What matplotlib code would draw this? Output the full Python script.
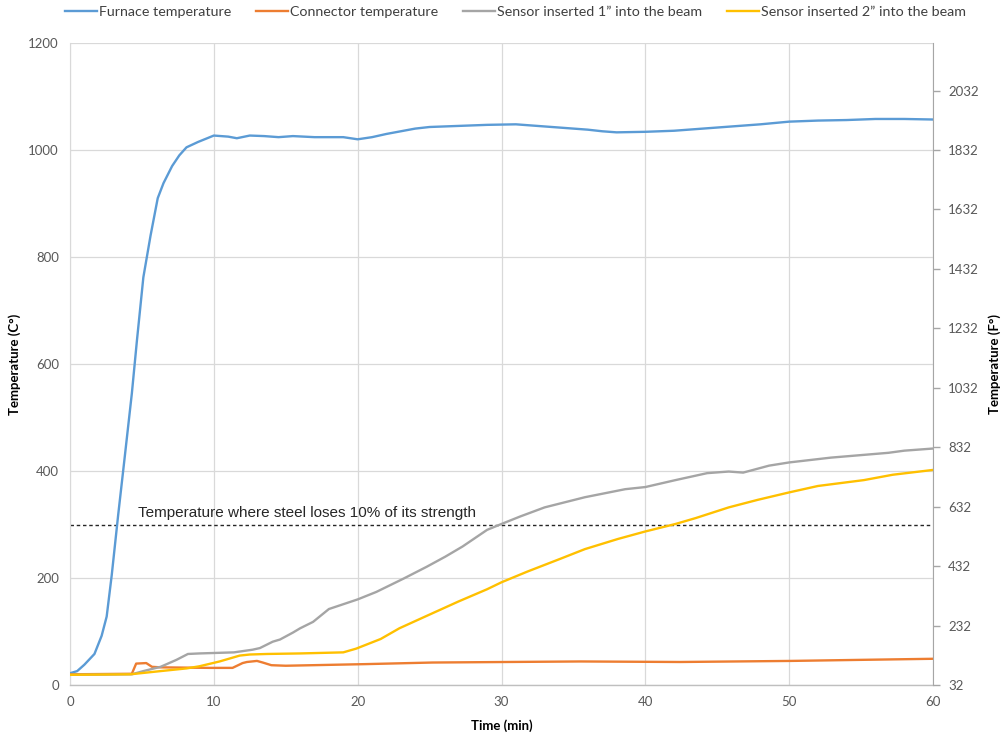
import matplotlib
matplotlib.use("Agg")
import matplotlib.pyplot as plt
import numpy as np

# ---- data ----
furnace_t = [0, 0.5, 1.0, 1.7, 2.2, 2.55, 2.9, 3.35, 3.8, 4.3, 4.65, 5.1, 5.6, 6.1, 6.5, 7.1,
             7.6, 8.1, 8.9, 10.0, 11.0, 11.6, 12.5, 13.5, 14.5, 15.5, 17, 19, 20, 21, 22, 23,
             24, 25, 27, 29, 31, 32, 34, 36, 37, 38, 40, 42, 44, 46, 48, 50, 52, 54, 56, 58, 60]
furnace_v = [22, 26, 38, 58, 92, 128, 205, 318, 425, 545, 643, 762, 840, 910, 938, 970,
             990, 1005, 1015, 1027, 1025, 1022, 1027, 1026, 1024, 1026, 1024, 1024, 1020, 1024, 1030, 1035,
             1040, 1043, 1045, 1047, 1048, 1046, 1042, 1038, 1035, 1033, 1034, 1036, 1040, 1044, 1048, 1053, 1055, 1056, 1058, 1058, 1057]

connector_t = [0, 4.3, 4.6, 5.3, 5.7, 6.3, 9.7, 11.3, 12.0, 12.3, 13.0, 13.4, 14.0, 15.0, 20.5, 25.2, 35.5, 42.4, 50.1, 55, 60]
connector_v = [20, 21, 40, 41, 34, 33, 32, 32, 41, 43, 45, 42, 37, 36, 39, 42, 44, 43, 45, 47, 49]

sensor1_t = [0, 4.3, 5.1, 6.3, 7.4, 8.2, 9.0, 11.4, 12.7, 13.2, 14.1, 14.6, 15.5, 16.0, 16.9, 18.0,
             20.0, 21.3, 23.2, 24.8, 26.1, 27.3, 29.0, 30.0, 31.3, 33.0, 35.8, 38.6, 40.0, 42.1,
             44.3, 45.8, 46.8, 48.6, 50.0, 52.9, 56.9, 58.0, 60.0]
sensor1_v = [19, 20, 26, 34, 47, 58, 59, 61, 66, 69, 81, 85, 98, 106, 118, 142,
             160, 174, 199, 221, 240, 259, 290, 301, 315, 332, 351, 366, 370, 383,
             396, 399, 397, 410, 416, 425, 434, 438, 442]

sensor2_t = [0, 4.2, 6.3, 8.1, 9.0, 10.4, 11.8, 12.5, 13.7, 16.0, 19.0, 19.9, 21.6, 22.9, 24.7,
             27.0, 29.0, 30.0, 31.8, 34.1, 35.8, 38.1, 40.0, 42.1, 43.5, 45.8, 47.8, 50.0, 52.0,
             55.2, 57.2, 60.0]
sensor2_v = [19, 20, 26, 31, 35, 44, 55, 57, 58, 59, 61, 68, 86, 106, 128,
             156, 179, 192, 212, 236, 254, 273, 287, 301, 312, 332, 346, 360, 372,
             383, 393, 402]

series_labels = ["Furnace temperature", "Connector temperature",
                 "Sensor inserted 1\u201d into the beam", "Sensor inserted 2\u201d into the beam"]
threshold = 300
threshold_label = "Temperature where steel loses 10% of its strength"
x_ticks = [0, 10, 20, 30, 40, 50, 60]
y_ticks_c = [0, 200, 400, 600, 800, 1000, 1200]
y_ticks_f = [32, 232, 432, 632, 832, 1032, 1232, 1432, 1632, 1832, 2032]

# ---- style ----
plt.rcParams['font.family'] = ['Lato', 'DejaVu Sans']
colors = ["#5B9BD5", "#ED7D31", "#A5A5A5", "#FFC000"]
tick_color = "#595959"

fig = plt.figure(figsize=(10.05, 7.38), dpi=100)
ax = fig.add_axes([70/1005, 53/738, 863/1005, 642/738])

lw = 1.7
ax.plot(furnace_t, furnace_v, color=colors[0], lw=lw, label=series_labels[0], zorder=3)
ax.plot(connector_t, connector_v, color=colors[1], lw=lw, label=series_labels[1], zorder=3)
ax.plot(sensor1_t, sensor1_v, color=colors[2], lw=lw, label=series_labels[2], zorder=3)
ax.plot(sensor2_t, sensor2_v, color=colors[3], lw=lw, label=series_labels[3], zorder=3)

ax.axhline(threshold, color="#262626", lw=1.0, ls=(0, (2.5, 2)), zorder=2)
ax.text(4.7, threshold + 8, threshold_label, fontsize=11, color="#262626",
        family=['Liberation Sans', 'DejaVu Sans'], va='bottom', ha='left')

ax.set_xlim(0, 60)
ax.set_ylim(0, 1200)
ax.set_xticks(x_ticks)
ax.set_yticks(y_ticks_c)
ax.grid(True, color="#D9D9D9", lw=0.9, zorder=0)
ax.set_axisbelow(True)
ax.tick_params(axis='both', length=0, labelsize=9.5, colors=tick_color, pad=8)
for s in ['top', 'right']:
    ax.spines[s].set_visible(False)
ax.spines['left'].set_color("#D9D9D9")
ax.spines['bottom'].set_color("#BFBFBF")
ax.spines['bottom'].set_linewidth(1.0)

ax.set_xlabel("Time (min)", fontsize=9.5, fontweight='bold', color="#000000")
ax.xaxis.set_label_coords(0.5, (685 - 726) / 642, transform=ax.transAxes)
ax.xaxis.label.set_va('center')
ax.set_ylabel("Temperature (C\u00b0)", fontsize=9.5, fontweight='bold', color="#000000")
ax.yaxis.set_label_coords((15 - 70) / 863, 0.5, transform=ax.transAxes)
ax.yaxis.label.set_va('center')

ax2 = ax.twinx()
ax2.set_ylim(32, 1200 * 1.8 + 32)
ax2.set_yticks(y_ticks_f)
ax2.tick_params(axis='y', length=5, width=1, color="#A6A6A6", labelsize=9.5, labelcolor=tick_color, pad=6)
for s in ['top', 'left', 'bottom']:
    ax2.spines[s].set_visible(False)
ax2.spines['right'].set_color("#A6A6A6")
ax2.set_ylabel("Temperature (F\u00b0)", fontsize=9.5, fontweight='bold', color="#000000", rotation=90)
ax2.yaxis.set_label_coords((995 - 70) / 863, 0.5, transform=ax2.transAxes)
ax2.yaxis.label.set_va('center')

handles, labels = ax.get_legend_handles_labels()
fig.legend(handles, labels, loc='center', bbox_to_anchor=(515.5 / 1005, 1 - 12/738), ncol=4,
           frameon=False, fontsize=10.3, handlelength=2.24, handletextpad=0.14,
           columnspacing=1.75, labelcolor="#404040", borderpad=0, borderaxespad=0)

fig.savefig("out.png", dpi=100)
